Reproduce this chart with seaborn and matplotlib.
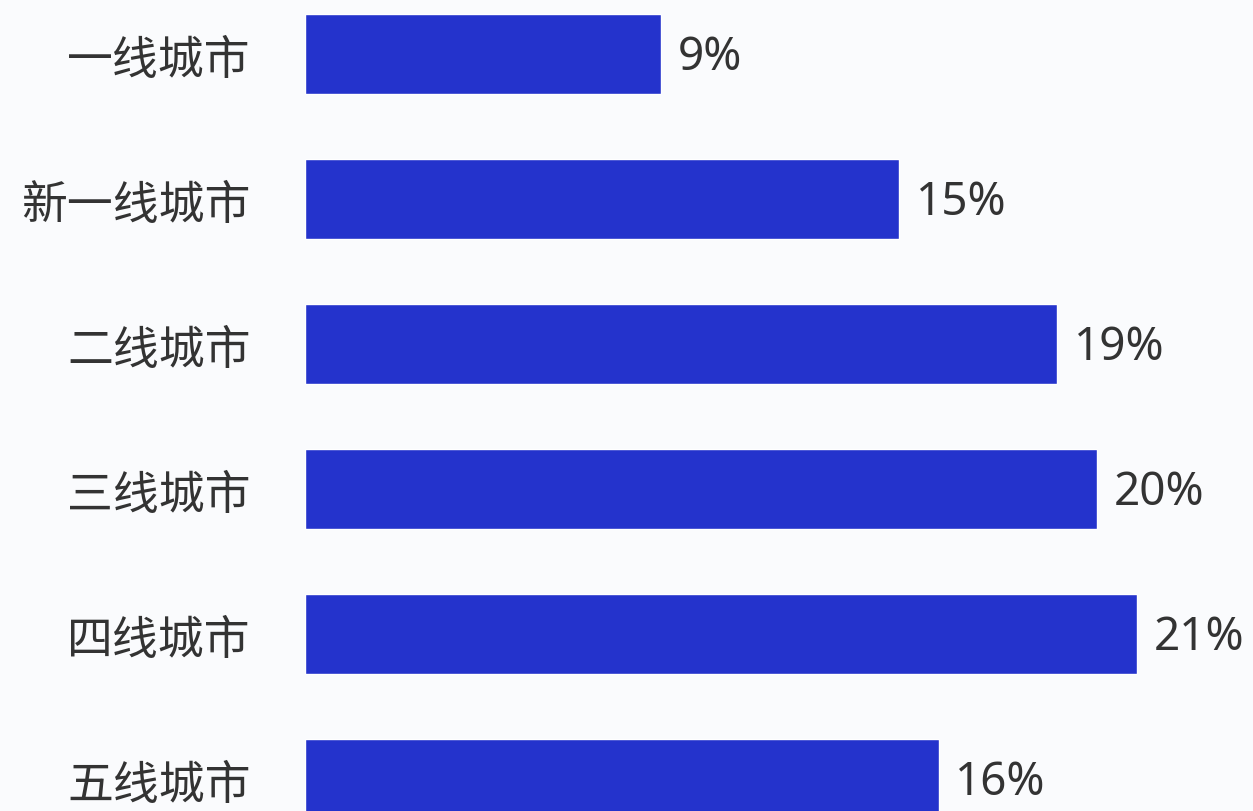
import pandas as pd
import seaborn as sns
from matplotlib import pyplot as plt

# data
cities = ["一线城市", "新一线城市", "二线城市", "三线城市", "四线城市", "五线城市"]
shares = [9, 15, 19, 20, 21, 16]
value_labels = ["9%", "15%", "19%", "20%", "21%", "16%"]

df = pd.DataFrame({"city": cities, "share": shares})

sns.set_theme(style="white")
plt.rcParams['font.family'] = ['Noto Sans CJK SC', 'DejaVu Sans']

fig = plt.figure(figsize=(12.53, 8.12), dpi=100)
fig.patch.set_facecolor("#fafbfd")
ax = fig.add_axes([305 / 1253, 0, 1 - 305 / 1253, 1])
ax.set_facecolor("#fafbfd")

sns.barplot(data=df, x="share", y="city", color="#2433cc", saturation=1,
            width=0.55, ax=ax)

# value labels at bar ends
for bar, lab in zip(ax.patches, value_labels):
    ax.annotate(lab, (bar.get_width(), bar.get_y() + bar.get_height() / 2),
                xytext=(12, -2), textcoords="offset points",
                ha="left", va="center", fontsize=33, color="#333333",
                family=["Noto Sans", "DejaVu Sans"])

ax.set_xlim(0, (1253 - 305) / 39.6)
ax.set_ylim(5.221, -0.379)
ax.set_xlabel("")
ax.set_ylabel("")
ax.set_xticks([])
ax.tick_params(axis="y", length=0, pad=39, labelsize=33, labelcolor="#333333")
sns.despine(ax=ax, left=True, bottom=True)

fig.savefig("out.png", dpi=100, facecolor=fig.get_facecolor())
plt.close()
